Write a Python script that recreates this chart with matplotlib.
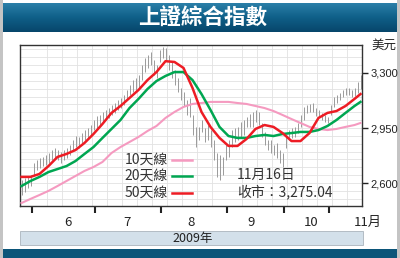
import numpy as np
import matplotlib.pyplot as plt
from matplotlib.patches import Rectangle
from matplotlib.colors import LinearSegmentedColormap
import matplotlib.transforms as mtransforms

plt.rcParams['font.family'] = ['Noto Sans CJK TC', 'DejaVu Sans']

# daily high / low of the index (late May - Nov 16, 2009)
high = [2619, 2632, 2645, 2651, 2728, 2747, 2759, 2766, 2778, 2791,
        2810, 2823, 2810, 2798, 2810, 2823, 2842, 2874, 2899, 2893,
        2918, 2937, 2950, 2969, 3001, 3027, 3033, 3052, 3065, 3077,
        3096, 3109, 3128, 3141, 3160, 3192, 3224, 3255, 3268, 3287,
        3351, 3395, 3414, 3434, 3383, 3351, 3446, 3465, 3459, 3414,
        3370, 3319, 3268, 3205, 3179, 3128, 3141, 3033, 2957, 2957,
        3001, 2950, 2969, 2937, 2874, 2791, 2778, 2766, 2842, 2874,
        2937, 2950, 2957, 2988, 3001, 3020, 3039, 3052, 3065, 3052,
        2982, 2925, 2874, 2874, 2842, 2855, 2810, 2791, 2906, 2937,
        2950, 2957, 2982, 3033, 3084, 3096, 3103, 3109, 3077, 3065,
        3046, 3033, 3020, 3096, 3147, 3160, 3173, 3192, 3205, 3205,
        3192, 3205, 3243, 3290]
low = [2524, 2543, 2569, 2581, 2651, 2683, 2696, 2708, 2715, 2728,
       2747, 2759, 2747, 2728, 2747, 2759, 2778, 2810, 2829, 2823,
       2855, 2874, 2887, 2906, 2937, 2950, 2969, 2988, 3001, 3014,
       3033, 3046, 3065, 3077, 3096, 3128, 3160, 3179, 3192, 3205,
       3255, 3306, 3332, 3351, 3287, 3268, 3370, 3395, 3383, 3319,
       3268, 3224, 3179, 3128, 3090, 3033, 3020, 2906, 2829, 2874,
       2925, 2861, 2874, 2829, 2747, 2639, 2619, 2651, 2747, 2766,
       2829, 2861, 2874, 2893, 2906, 2957, 2957, 2957, 2988, 2969,
       2893, 2842, 2810, 2791, 2778, 2759, 2728, 2702, 2823, 2874,
       2887, 2893, 2918, 2957, 3001, 3046, 3052, 3052, 3027, 3020,
       3001, 2988, 2982, 3033, 3084, 3109, 3128, 3147, 3160, 3160,
       3147, 3154, 3173, 3195]
days = np.arange(len(high))

# moving average lines, sampled every 3 trading days
ma_days = list(range(0, 114, 3)) + [113]
line_10 = [2473, 2499, 2524, 2550, 2581, 2613, 2645, 2677, 2702, 2734,
           2791, 2829, 2861, 2893, 2931, 2963, 3014, 3052, 3084, 3103,
           3109, 3116, 3116, 3116, 3109, 3103, 3090, 3077, 3058, 3033,
           3007, 2982, 2957, 2944, 2937, 2944, 2957, 2969, 2982]
line_20 = [2581, 2613, 2639, 2670, 2689, 2708, 2740, 2785, 2829, 2887,
           2944, 3001, 3077, 3135, 3198, 3249, 3281, 3306, 3306, 3255,
           3166, 3065, 2957, 2899, 2887, 2887, 2899, 2906, 2899, 2912,
           2918, 2925, 2925, 2937, 2963, 3001, 3046, 3090, 3116]
line_50 = [2639, 2639, 2658, 2708, 2766, 2785, 2810, 2855, 2912, 2976,
           3046, 3090, 3141, 3192, 3255, 3306, 3375, 3370, 3332, 3205,
           3052, 2957, 2887, 2836, 2836, 2880, 2944, 2969, 2957, 2918,
           2867, 2867, 2918, 3014, 3046, 3058, 3090, 3135, 3166]

month_starts = [4, 25, 47, 69, 88, 103]
month_labels = ['6', '7', '8', '9', '10', '11月']
month_label_pos = [15.5, 35, 56.5, 76.5, 96.5, 115.5]
yticks = [2600, 2950, 3300]
ytick_labels = ['2,600', '2,950', '3,300']

fig = plt.figure(figsize=(4, 2.58), dpi=100)

# decorations drawn in pixel space
bg = fig.add_axes([0, 0, 1, 1], zorder=0)
bg.set_xlim(0, 400)
bg.set_ylim(258, 0)
bg.axis('off')
bg.add_patch(Rectangle((0, 0), 400, 258, fc='#c4c4c4', ec='none'))
bg.add_patch(Rectangle((3, 0), 394, 258, fc='white', ec='none'))
cmap = LinearSegmentedColormap.from_list('banner', ['#2b7fa8', '#0f5f88', '#07466b'])
grad = np.linspace(0, 1, 50).reshape(-1, 1)
bg.imshow(grad, extent=(3, 397, 32, 3), aspect='auto', cmap=cmap, zorder=1)
bg.text(203, 18, '上證綜合指數', color='white', fontsize=15.5, fontweight='bold',
        ha='center', va='center', zorder=2)
bg.add_patch(Rectangle((3, 249), 394, 9, fc='#0b5579', ec='none'))
bg.add_patch(Rectangle((20, 231), 343, 14, fc='#d3e0ea', ec='#aab4bd', lw=0.6))
bg.text(193, 238.5, '2009年', fontsize=9, ha='center', va='center', color='#222222')
bg.text(384, 45, '美元', fontsize=9, ha='center', va='center', color='#222222')

ax = fig.add_axes([0.05, 0.2016, 0.855, 0.624], zorder=1)
ax.set_xlim(-0.5, 113.5)
ax.set_ylim(2454, 3478)

ax.vlines(days, low, high, color='#9a9a9a', lw=0.7, zorder=2)
ax.plot(ma_days, line_10, color='#f59ac0', lw=1.5, zorder=3)
ax.plot(ma_days, line_20, color='#00a651', lw=1.8, zorder=4)
ax.plot(ma_days, line_50, color='#ed1c24', lw=1.8, zorder=5)

# grid
ax.set_yticks(yticks)
ax.set_yticklabels(ytick_labels)
ax.set_yticks(np.arange(2500, 3478, 50), minor=True)
ax.set_xticks(np.array(month_starts) - 0.5)
ax.set_xticklabels([])
ax.set_xticks(np.arange(3.5, 114, 5), minor=True)
ax.grid(which='minor', color='#e2e2e2', lw=0.6, zorder=0)
ax.grid(which='major', axis='y', color='#e2e2e2', lw=0.6, zorder=0)
ax.set_axisbelow(True)

ax.yaxis.tick_right()
ax.tick_params(axis='y', which='major', length=4, width=1, direction='out',
               labelsize=8, pad=2, colors='#222222')
ax.tick_params(axis='x', which='major', length=5, width=1.5, direction='out', colors='#222222')
ax.tick_params(which='minor', length=0)
for lab in ax.get_yticklabels():
    lab.set_family(['Liberation Sans', 'DejaVu Sans'])
for s in ax.spines.values():
    s.set_color('#333333')
    s.set_linewidth(1)

trans = mtransforms.blended_transform_factory(ax.transData, ax.transAxes)
for pos, lab in zip(month_label_pos, month_labels):
    ax.text(pos, -0.1, lab, transform=trans, ha='center', va='center',
            fontsize=9.5, color='#222222', clip_on=False)

# legend
legend_rows = [('10天線', '#f59ac0', 0.286), ('20天線', '#00a651', 0.186), ('50天線', '#ed1c24', 0.081)]
for name, col, yy in legend_rows:
    ax.text(0.433, yy, name, transform=ax.transAxes, ha='right', va='center',
            fontsize=10, color='#333333', zorder=6)
    ax.plot([0.444, 0.503], [yy, yy], transform=ax.transAxes, color=col, lw=1.8, zorder=6)

ax.text(0.635, 0.19, '11月16日', transform=ax.transAxes, ha='left', va='center',
        fontsize=10, color='#333333', zorder=6)
ax.text(0.635, 0.087, '收市：3,275.04', transform=ax.transAxes, ha='left', va='center',
        fontsize=10, color='#333333', zorder=6)

fig.savefig('out.png', dpi=100)
